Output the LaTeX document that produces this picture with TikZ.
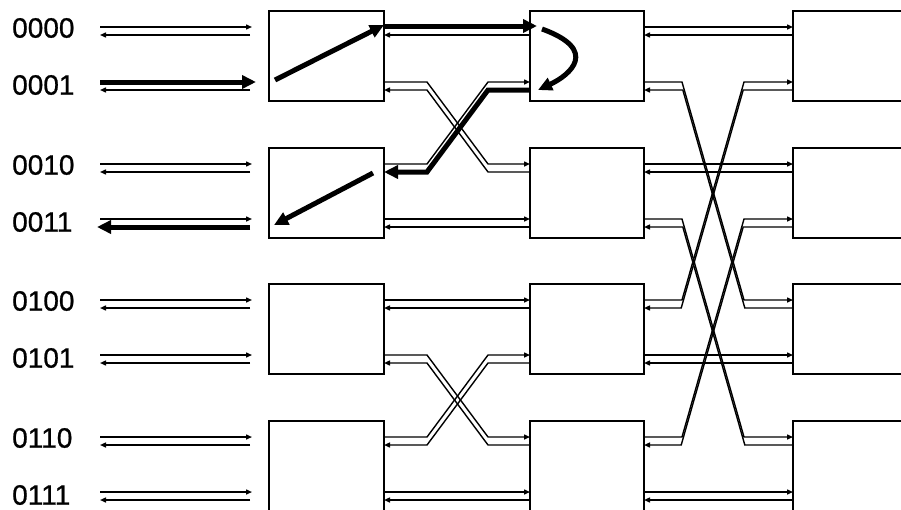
\documentclass[tikz,border=0pt]{standalone}
\usepackage{fontspec}
\setmainfont{Liberation Sans}
\newfontfamily\labfont[FakeBold=0.8]{Liberation Sans}
\usetikzlibrary{arrows.meta}
% straight pair of channels: left box, right box, fwd offset, bwd offset
\newcommand\chanS[4]{%
  \draw[fwd] ([yshift=-#3pt]#1.north east) -- ([yshift=-#3pt]#2.north west);
  \draw[bwd] ([yshift=-#4pt]#2.north west) -- ([yshift=-#4pt]#1.north east);}
% crossing pair: left box, left fwd off, left bwd off, right box, right fwd off, right bwd off, left dx, right dx, bwd bend shift
\newcommand\chanX[9]{%
  \draw[fwd] ([yshift=-#2pt]#1.north east) -- ++(#7,0) -- ([xshift=-#8pt,yshift=-#5pt]#4.north west) -- ([yshift=-#5pt]#4.north west);
  \draw[bwd] ([yshift=-#6pt]#4.north west) -- ([xshift=-#8pt+#9pt,yshift=-#6pt]#4.north west) -- ([xshift=#7pt+#9pt,yshift=-#3pt]#1.north east) -- ([yshift=-#3pt]#1.north east);}
% input pair: box, fwd off, bwd off
\newcommand\inpair[3]{%
  \draw[fwd] ([xshift=-169pt,yshift=-#2pt]#1.north west) -- ([xshift=-17pt,yshift=-#2pt]#1.north west);
  \draw[bwd] ([xshift=-19pt,yshift=-#3pt]#1.north west) -- ([xshift=-169pt,yshift=-#3pt]#1.north west);}
\begin{document}
\begin{tikzpicture}[x=1pt,y=-1pt,
  box/.style={draw, line width=1.5pt, minimum width=115pt, minimum height=90pt, inner sep=0pt, outer sep=0pt, anchor=north west},
  lab/.style={font=\labfont\fontsize{28}{28}\selectfont, inner sep=0pt, anchor=west},
  fwd/.style={line width=1.4pt, -{Triangle[length=6pt,width=5pt]}},
  bwd/.style={fwd},
  heavy/.style={line width=5pt, -{Triangle[length=14pt,width=13pt]}},
]
\clip (0,0) rectangle (901,509);
\fill[white] (0,0) rectangle (901,509);
% boxes
\node[box] (a1) at (269,11) {};
\node[box] (a2) at (269,148) {};
\node[box] (a3) at (269,284) {};
\node[box] (a4) at (269,421) {};
\node[box, minimum width=114pt] (b1) at (530,11) {};
\node[box, minimum width=114pt] (b2) at (530,148) {};
\node[box, minimum width=114pt] (b3) at (530,284) {};
\node[box, minimum width=114pt] (b4) at (530,421) {};
\node[box, minimum width=130pt] (c1) at (793,11) {};
\node[box, minimum width=130pt] (c2) at (793,148) {};
\node[box, minimum width=130pt] (c3) at (793,284) {};
\node[box, minimum width=130pt] (c4) at (793,421) {};
% labels
\node[lab] (l0000) at ([xshift=-257pt,yshift=-17pt]a1.north west) {0000};
\node[lab] (l0001) at ([xshift=-257pt,yshift=-74pt]a1.north west) {0001};
\node[lab] (l0010) at ([xshift=-257pt,yshift=-17pt]a2.north west) {0010};
\node[lab] (l0011) at ([xshift=-257pt,yshift=-74pt]a2.north west) {0011};
\node[lab] (l0100) at ([xshift=-257pt,yshift=-17pt]a3.north west) {0100};
\node[lab] (l0101) at ([xshift=-257pt,yshift=-74pt]a3.north west) {0101};
\node[lab] (l0110) at ([xshift=-257pt,yshift=-17pt]a4.north west) {0110};
\node[lab] (l0111) at ([xshift=-257pt,yshift=-74pt]a4.north west) {0111};
% inputs
\inpair{a1}{16}{24}
\draw[heavy] ([xshift=-169pt,yshift=-71pt]a1.north west) -- ([xshift=-13pt,yshift=-71pt]a1.north west);
\draw[bwd] ([xshift=-19pt,yshift=-79pt]a1.north west) -- ([xshift=-169pt,yshift=-79pt]a1.north west);
\inpair{a2}{16}{24}
\draw[fwd] ([xshift=-169pt,yshift=-71pt]a2.north west) -- ([xshift=-17pt,yshift=-71pt]a2.north west);
\draw[heavy] ([xshift=-19pt,yshift=-79pt]a2.north west) -- ([xshift=-172pt,yshift=-79pt]a2.north west);
\inpair{a3}{16}{24}
\inpair{a3}{71}{79}
\inpair{a4}{16}{24}
\inpair{a4}{71}{79}
% middle stage
\draw[heavy] ([xshift=6pt,yshift=-69pt]a1.north west) -- ([yshift=-14pt]a1.north east);
\draw[heavy] ([yshift=-15pt]a1.north east) -- ([xshift=7pt,yshift=-15pt]b1.north west);
\draw[bwd] ([yshift=-24pt]b1.north west) -- ([yshift=-24pt]a1.north east);
\draw[heavy] ([xshift=12pt,yshift=-18pt]b1.north west) .. controls ([xshift=70pt,yshift=-39pt]b1.north west) and ([xshift=40pt,yshift=-64pt]b1.north west) .. ([xshift=8pt,yshift=-79pt]b1.north west);
\draw[fwd] ([yshift=-16pt]a2.north east) -- ++(43,0) -- ([xshift=-42pt,yshift=-71pt]b1.north west) -- ([yshift=-71pt]b1.north west);
\draw[heavy] ([yshift=-79pt]b1.north west) -- ++(-42,0) -- ([xshift=43pt,yshift=-24pt]a2.north east) -- ([yshift=-24pt]a2.north east);
\draw[heavy] ([xshift=-11pt,yshift=-25pt]a2.north east) -- ([xshift=5pt,yshift=-77pt]a2.north west);
\chanX{a1}{71}{79}{b2}{16}{24}{43}{42}{0}
\chanS{a2}{b2}{71}{79}
\chanS{a3}{b3}{16}{24}
\chanX{a3}{71}{79}{b4}{16}{24}{43}{42}{0}
\chanX{a4}{16}{24}{b3}{71}{79}{43}{42}{0}
\chanS{a4}{b4}{71}{79}
% right stage
\chanS{b1}{c1}{16}{24}
\chanX{b1}{71}{79}{c3}{16}{24}{38}{49}{0.8}
\chanS{b2}{c2}{16}{24}
\chanX{b2}{71}{79}{c4}{16}{24}{38}{49}{0.8}
\chanX{b3}{16}{24}{c1}{71}{79}{38}{49}{-0.8}
\chanS{b3}{c3}{71}{79}
\chanX{b4}{16}{24}{c2}{71}{79}{38}{49}{-0.8}
\chanS{b4}{c4}{71}{79}
\end{tikzpicture}
\end{document}
